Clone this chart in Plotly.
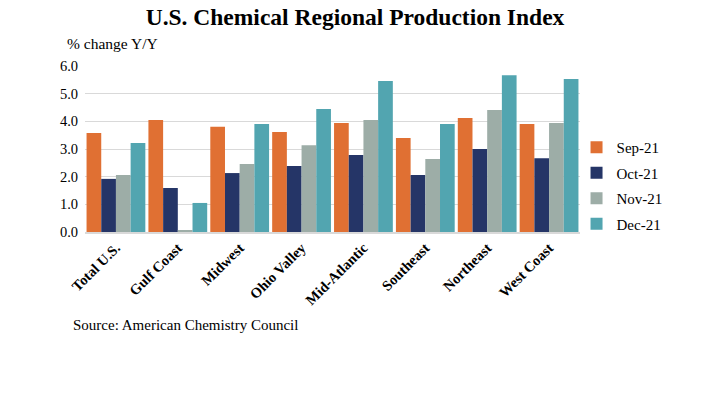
import plotly.graph_objects as go

categories = ["Total U.S.", "Gulf Coast", "Midwest", "Ohio Valley", "Mid-Atlantic",
              "Southeast", "Northeast", "West Coast"]
series_names = ["Sep-21", "Oct-21", "Nov-21", "Dec-21"]
sep21 = [3.58, 4.05, 3.80, 3.61, 3.94, 3.40, 4.12, 3.90]
oct21 = [1.92, 1.59, 2.13, 2.39, 2.78, 2.06, 3.00, 2.67]
nov21 = [2.06, 0.04, 2.46, 3.14, 4.05, 2.64, 4.41, 3.94]
dec21 = [3.22, 1.05, 3.90, 4.45, 5.46, 3.90, 5.67, 5.53]
y_ticks = [0, 1, 2, 3, 4, 5, 6]
colors = ["#E07033", "#253567", "#9DADA7", "#52A5B0"]

font_family = "Liberation Serif, Times New Roman, serif"

fig = go.Figure()
for name, vals, c in zip(series_names, [sep21, oct21, nov21, dec21], colors):
    fig.add_trace(go.Bar(name=name, x=categories, y=vals, legendgroup=name,
                         marker=dict(color=c, line=dict(width=0))))

fig.update_layout(
    width=710, height=399,
    barmode="group", bargap=0.05, bargroupgap=0,
    plot_bgcolor="white", paper_bgcolor="white",
    margin=dict(l=85, r=130, t=66, b=167),
    font=dict(family=font_family, size=14, color="#000000"),
    legend=dict(x=0.993, xanchor="left", y=0.28, yanchor="middle",
                font=dict(size=15, family=font_family), tracegroupgap=3, itemwidth=30,
                bgcolor="rgba(0,0,0,0)"),
    title=dict(text="<b>U.S. Chemical Regional Production Index</b>",
               x=0.5, xanchor="center", y=0.957, yanchor="middle",
               font=dict(size=23.5, family=font_family)),
)
fig.update_yaxes(range=[0, 6], tickvals=y_ticks, tickformat=".1f",
                 showgrid=True, gridcolor="#D9D9D9", gridwidth=1,
                 zeroline=False, showline=False, ticks="",
                 tickfont=dict(size=14.5, family=font_family), ticklabelstandoff=6)
fig.update_xaxes(tickangle=-45, showline=True, linecolor="#D9D9D9", linewidth=1.5,
                 ticks="", tickfont=dict(size=14.5, family=font_family),
                 tickvals=categories, ticktext=["<b>%s</b>" % c for c in categories])

fig.add_annotation(text="% change Y/Y", xref="paper", yref="paper",
                   x=-0.04, y=1.07, xanchor="left", yanchor="bottom",
                   showarrow=False, font=dict(size=15.5, family=font_family))
fig.add_annotation(text="Source: American Chemistry Council", xref="paper", yref="paper",
                   x=-0.028, y=-0.56, xanchor="left", yanchor="middle",
                   showarrow=False, font=dict(size=15, family=font_family))

fig.write_html("out.html", config={"displayModeBar": False},
               post_script="document.body.style.margin='0';")
